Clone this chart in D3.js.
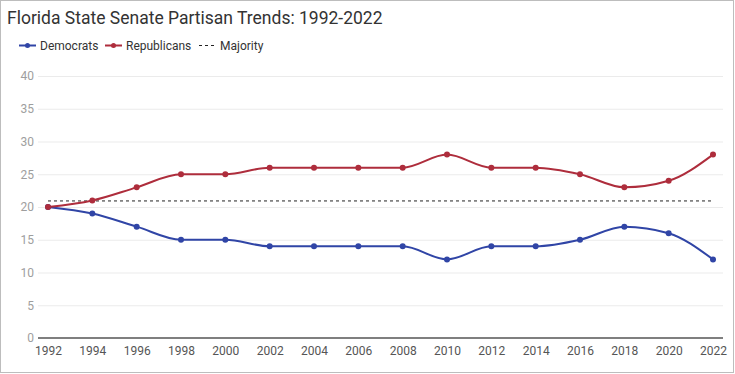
<!DOCTYPE html>
<html><head><meta charset="utf-8">
<script src="https://cdn.jsdelivr.net/npm/d3@7"></script>
<style>
html,body{margin:0;padding:0;background:#fff;}
svg{display:block;font-family:Roboto,"Noto Sans",sans-serif;}
</style></head>
<body><svg id="c" width="735" height="374"></svg>
<script>
const years = [1992,1994,1996,1998,2000,2002,2004,2006,2008,2010,2012,2014,2016,2018,2020,2022];
const democrats = [20,19,17,15,15,14,14,14,14,12,14,14,15,17,16,12];
const republicans = [20,21,23,25,25,26,26,26,26,28,26,26,25,23,24,28];
const majority = 21;
const yTicks = [0,5,10,15,20,25,30,35,40];
const title = "Florida State Senate Partisan Trends: 1992-2022";
const seriesNames = ["Democrats","Republicans","Majority"];

const svg = d3.select("#c");
const W = 735, H = 374;
const blue = "#3045a6", red = "#ae2d3c";

svg.append("rect").attr("x",0.5).attr("y",0.5).attr("width",W-2).attr("height",H-2)
  .attr("fill","#fff").attr("stroke","#bdbdbd").attr("stroke-width",1);

const x = d3.scalePoint().domain(years).range([48,713]);
const y = d3.scaleLinear().domain([0,40]).range([338,76]);

svg.append("text").attr("x",7).attr("y",24).attr("font-size",17.5).attr("fill","#333").text(title);

// grid
svg.append("g").selectAll("line").data(yTicks.filter(d=>d>0)).join("line")
  .attr("x1",38).attr("x2",723).attr("y1",d=>y(d)+0.5).attr("y2",d=>y(d)+0.5)
  .attr("stroke","#ebebeb").attr("stroke-width",1);

// y axis labels
const yAxis = d3.axisLeft(y).tickValues(yTicks).tickSize(0).tickPadding(4);
const ya = svg.append("g").attr("transform","translate(38,0)").call(yAxis);
ya.select(".domain").remove();
ya.selectAll("text").attr("font-size",12).attr("fill","#9e9e9e").attr("font-family","Roboto,sans-serif");

// x axis
const xAxis = d3.axisBottom(x).tickSize(0).tickPadding(8).tickFormat(d3.format("d"));
const xa = svg.append("g").attr("transform",`translate(0,${y(0)})`).call(xAxis);
xa.select(".domain").remove();
xa.selectAll("text").attr("font-size",12).attr("fill","#555").attr("font-family","Roboto,sans-serif");
svg.append("line").attr("x1",38).attr("x2",723).attr("y1",y(0)).attr("y2",y(0))
  .attr("stroke","#555").attr("stroke-width",1.5);

// majority
svg.append("line").attr("x1",x(years[0])).attr("x2",x(years[years.length-1]))
  .attr("y1",y(majority)+0.5).attr("y2",y(majority)+0.5)
  .attr("stroke","#222").attr("stroke-width",1).attr("stroke-dasharray","3,3");

const line = d3.line().x((d,i)=>x(years[i])).y(d=>y(d)).curve(d3.curveMonotoneX);
[[democrats,blue],[republicans,red]].forEach(([vals,col])=>{
  svg.append("path").attr("d",line(vals)).attr("fill","none").attr("stroke",col).attr("stroke-width",2);
  svg.append("g").selectAll("circle").data(vals).join("circle")
    .attr("cx",(d,i)=>x(years[i])).attr("cy",d=>y(d)).attr("r",3).attr("fill",col);
});

// legend
const lg = svg.append("g").attr("font-size",12).attr("fill","#333");
const items = [{n:seriesNames[0],c:blue,x0:19},{n:seriesNames[1],c:red,x0:105},{n:seriesNames[2],c:"#222",x0:199,dash:true}];
items.forEach(it=>{
  const ly = 45.5;
  lg.append("line").attr("x1",it.x0).attr("x2",it.x0+17).attr("y1",ly).attr("y2",ly)
    .attr("stroke",it.c).attr("stroke-width",it.dash?1:2).attr("stroke-dasharray",it.dash?"3,3":null);
  if(!it.dash) lg.append("circle").attr("cx",it.x0+8.5).attr("cy",ly).attr("r",2.5).attr("fill",it.c);
  lg.append("text").attr("x",it.x0+21).attr("y",ly+4.5).attr("fill","#333").text(it.n);
});
</script></body></html>
